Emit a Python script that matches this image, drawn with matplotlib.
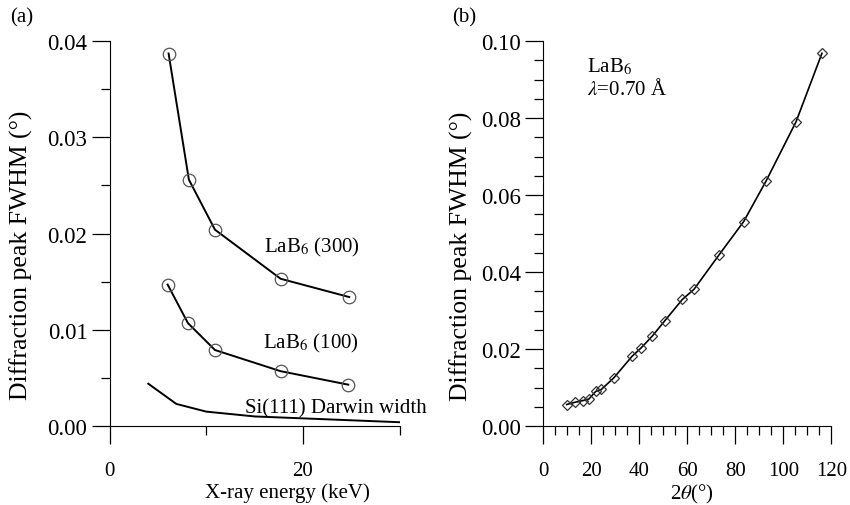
import numpy as np
import matplotlib.pyplot as plt

plt.rcParams['font.family'] = ['Liberation Serif', 'DejaVu Serif']
plt.rcParams['mathtext.fontset'] = 'stix'

# panel (a) data
e_300 = [6.1, 8.2, 10.9, 17.7, 24.8]
w_300 = [0.0387, 0.0256, 0.0204, 0.0153, 0.0134]
e_100 = [6.0, 8.1, 10.9, 17.7, 24.7]
w_100 = [0.0147, 0.0107, 0.0079, 0.0057, 0.0043]
e_si = [4.0, 6.9, 10.0, 15.0, 20.0, 25.0, 30.0]
w_si = [0.0044, 0.0023, 0.0015, 0.0010, 0.0008, 0.0006, 0.0004]

# panel (b) data
tth = [9.8, 13.4, 16.4, 19.0, 21.9, 24.2, 29.4, 37.0, 40.8, 45.5, 50.6,
       58.0, 62.8, 73.3, 83.5, 92.8, 105.3, 116.1]
fwhm = [0.0056, 0.0062, 0.0066, 0.0070, 0.0090, 0.0095, 0.0125, 0.0181,
        0.0203, 0.0234, 0.0273, 0.0329, 0.0355, 0.0445, 0.0531, 0.0636,
        0.0790, 0.0968]

fig = plt.figure(figsize=(8.5, 5.06), dpi=100)
ax1 = fig.add_axes([0.129, 0.156, 0.341, 0.761])
ax2 = fig.add_axes([0.639, 0.156, 0.339, 0.761])

fs = 15
for ax in (ax1, ax2):
    ax.spines['top'].set_visible(False)
    ax.spines['right'].set_visible(False)
    ax.tick_params(direction='out', length=13, width=0.9)
    ax.tick_params(which='minor', direction='out', length=6.5, width=0.9)
    ax.tick_params(axis='x', labelsize=15, pad=12)
    ax.tick_params(axis='y', labelsize=16.5, pad=3)
    ax.set_ylabel('Diffraction peak FWHM (°)', fontsize=18.5)

# (a)
ax1.plot(e_300, w_300, '-', color='black', lw=1.4, marker='o', ms=9,
         mfc='none', mec='#555555', mew=0.9)
ax1.plot(e_100, w_100, '-', color='black', lw=1.4, marker='o', ms=9,
         mfc='none', mec='#555555', mew=0.9)
ax1.plot(e_si, w_si, '-', color='black', lw=1.4)
ax1.set_xlim(0, 30)
ax1.set_ylim(0, 0.04)
ax1.set_xticks([0, 20])
ax1.set_xticks([10, 30], minor=True)
ax1.set_yticks([0, 0.01, 0.02, 0.03, 0.04])
ax1.set_yticklabels(['0.00', '0.01', '0.02', '0.03', '0.04'])
ax1.set_yticks([0.005, 0.015, 0.025, 0.035], minor=True)
ax1.set_xlabel('X-ray energy (keV)', fontsize=fs)
ax1.xaxis.set_label_coords(0.614, -0.146)
ax1.yaxis.set_label_coords(-0.266, 0.447)
ax1.text(16.0, 0.0187, 'LaB$_6$ (300)', fontsize=fs, ha='left', va='center')
ax1.text(15.9, 0.0087, 'LaB$_6$ (100)', fontsize=fs, ha='left', va='center')
ax1.text(14.0, 0.0019, 'Si(111) Darwin width', fontsize=fs, ha='left',
         va='center', clip_on=False)
fig.text(0.012, 0.965, '(a)', fontsize=fs, ha='left', va='center')

# (b)
ax2.plot(tth, fwhm, '-', color='black', lw=1.2, marker='D', ms=5.5,
         mfc='none', mec='#333333', mew=0.9)
ax2.set_xlim(0, 120)
ax2.set_ylim(0, 0.1)
ax2.set_xticks(np.arange(0, 121, 20))
ax2.set_xticks(np.arange(0, 121, 5), minor=True)
ax2.set_yticks(np.arange(0, 0.101, 0.02))
ax2.set_yticklabels(['0.00', '0.02', '0.04', '0.06', '0.08', '0.10'])
ax2.set_yticks(np.arange(0, 0.101, 0.005), minor=True)
ax2.set_xlabel(r'2$\theta$(°)', fontsize=fs)
ax2.xaxis.set_label_coords(0.517, -0.146)
ax2.yaxis.set_label_coords(-0.243, 0.444)
ax2.text(18.3, 0.0906, 'LaB$_6$\n$\\lambda$=0.70 Å', fontsize=fs, ha='left',
         va='center', linespacing=1.15)
fig.text(0.532, 0.965, '(b)', fontsize=fs, ha='left', va='center')

fig.savefig('out.png', dpi=100)
